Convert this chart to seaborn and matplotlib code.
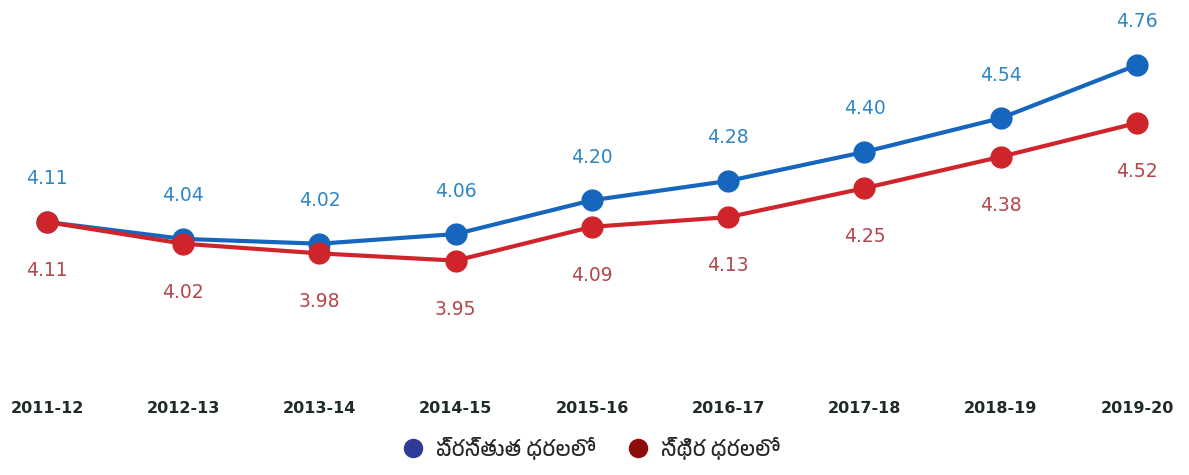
import matplotlib
matplotlib.use("Agg")
import matplotlib.pyplot as plt
from matplotlib import font_manager
from matplotlib.lines import Line2D
import seaborn as sns
import pandas as pd

years = ["2011-12", "2012-13", "2013-14", "2014-15", "2015-16",
         "2016-17", "2017-18", "2018-19", "2019-20"]
current_prices = [4.11, 4.04, 4.02, 4.06, 4.20, 4.28, 4.40, 4.54, 4.76]
constant_prices = [4.11, 4.02, 3.98, 3.95, 4.09, 4.13, 4.25, 4.38, 4.52]
series_names = ["ప్రస్తుత ధరలలో", "స్థిర ధరలలో"]

sns.set_theme(style="white")

# find a font with Telugu glyphs if one is installed
telugu_family = None
for f in font_manager.fontManager.ttflist:
    n = f.name.lower()
    if any(k in n for k in ["telugu", "gautami", "pothana", "lohit te", "vemana", "mandali", "ramabhadra"]):
        telugu_family = f.name
        break
legend_family = [telugu_family, "DejaVu Sans"] if telugu_family else ["DejaVu Sans"]
plt.rcParams["font.family"] = ["DejaVu Sans"]

df = pd.DataFrame({
    "idx": list(range(len(years))) * 2,
    "value": current_prices + constant_prices,
    "series": [series_names[0]] * len(years) + [series_names[1]] * len(years),
})

fig = plt.figure(figsize=(11.89, 4.75), dpi=100)
ax = fig.add_axes([6.1 / 1189, 105 / 475, 1171.75 / 1189, 350 / 475])

line_colors = {series_names[0]: "#1766bd", series_names[1]: "#d0242b"}
sns.lineplot(data=df, x="idx", y="value", hue="series", palette=line_colors,
             marker="o", markersize=16, linewidth=3.0, markeredgewidth=0,
             legend=False, ax=ax, sort=False)

ax.set_xlim(-0.3, 8.3)
ax.set_ylim(3.497, 4.9465)

for i, v in enumerate(current_prices):
    ax.annotate(f"{v:.2f}", (i, v), xytext=(0, 31), textcoords="offset points",
                ha="center", va="center", fontsize=13.5, color="#2f86c2")
for i, v in enumerate(constant_prices):
    ax.annotate(f"{v:.2f}", (i, v), xytext=(0, -35), textcoords="offset points",
                ha="center", va="center", fontsize=13.5, color="#b2474c")

ax.set_xticks(range(len(years)))
ax.set_xticklabels(years, fontsize=11.5, fontweight="bold", color="#1f2b25")
ax.tick_params(axis="x", length=0, pad=22)
ax.set_yticks([])
ax.set_xlabel("")
ax.set_ylabel("")
for s in ax.spines.values():
    s.set_visible(False)

handles = [
    Line2D([], [], linestyle="none", marker="o", markersize=13, color="#2e3a98"),
    Line2D([], [], linestyle="none", marker="o", markersize=13, color="#8c0b0b"),
]
fig.legend(handles, series_names, loc="center", bbox_to_anchor=(0.493, 27 / 475),
           ncol=2, frameon=False, handletextpad=0.1, columnspacing=1.0,
           prop={"family": legend_family, "size": 15})

fig.savefig("out.png", dpi=100)
